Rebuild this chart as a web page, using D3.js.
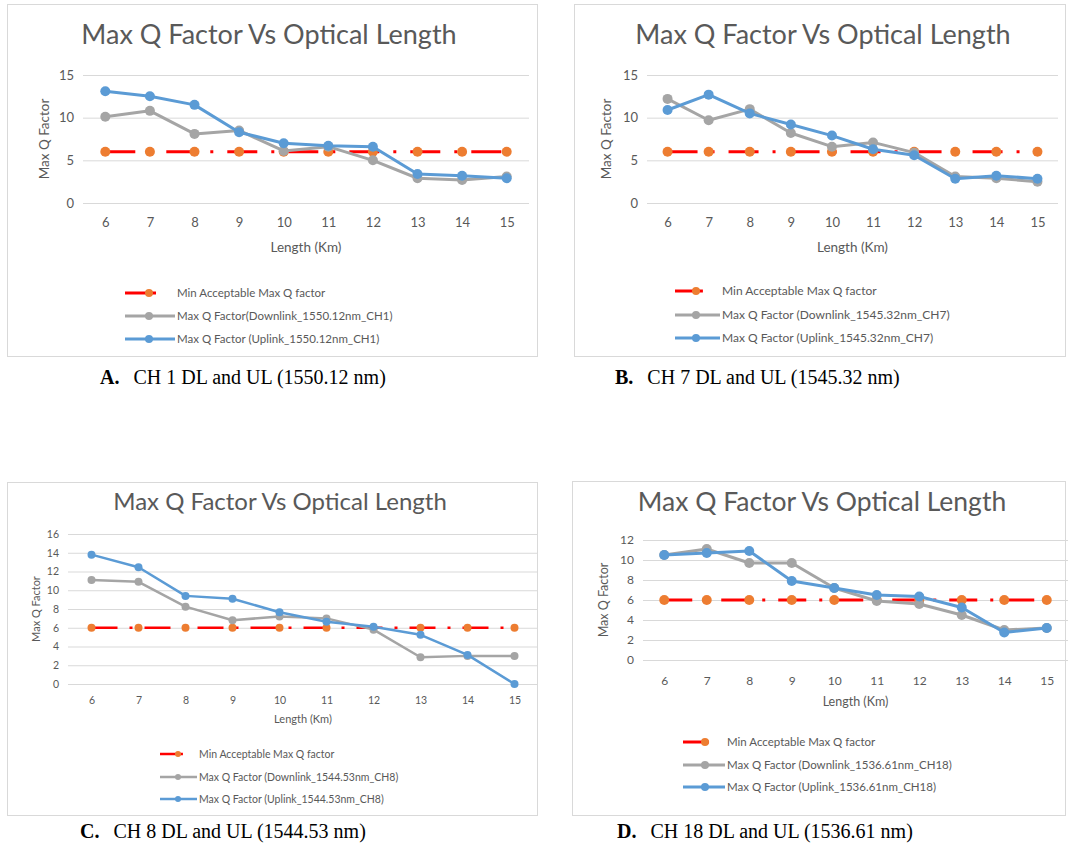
<!DOCTYPE html>
<html lang="en">
<head>
    <meta charset="UTF-8">
    <script src="https://d3js.org/d3.v7.min.js"></script>
    <style>
        body { margin: 0; background: white; }
        text { font-family: Lato, "Open Sans", sans-serif; }
        .caption { font-family: "Liberation Serif", "Times New Roman", serif; }
    </style>
</head>
<body>
    <svg id="chart" width="1072" height="847"></svg>

    <script>
        // x categories (km)
        const lengths = [6, 7, 8, 9, 10, 11, 12, 13, 14, 15];
        const minAcceptable = [6, 6, 6, 6, 6, 6, 6, 6, 6, 6];

        // CH1 1550.12 nm
        const ch1Down = [10.1, 10.8, 8.1, 8.5, 6.1, 6.6, 5.0, 2.9, 2.7, 3.1];
        const ch1Up   = [13.1, 12.5, 11.5, 8.3, 7.0, 6.7, 6.6, 3.4, 3.2, 2.9];
        // CH7 1545.32 nm
        const ch7Down = [12.2, 9.7, 11.0, 8.2, 6.6, 7.1, 5.9, 3.1, 2.9, 2.5];
        const ch7Up   = [10.9, 12.7, 10.5, 9.2, 7.9, 6.3, 5.6, 2.85, 3.2, 2.85];
        // CH8 1544.53 nm
        const ch8Down = [11.1, 10.9, 8.25, 6.8, 7.2, 7.0, 5.8, 2.85, 3.0, 3.0];
        const ch8Up   = [13.8, 12.45, 9.4, 9.1, 7.65, 6.65, 6.1, 5.25, 3.1, 0];
        // CH18 1536.61 nm
        const ch18Down = [10.5, 11.1, 9.7, 9.7, 7.2, 5.9, 5.6, 4.5, 3.0, 3.2];
        const ch18Up   = [10.5, 10.7, 10.9, 7.9, 7.2, 6.5, 6.35, 5.25, 2.75, 3.2];

        const yTicksAB = [0, 5, 10, 15];
        const yTicksC = [0, 2, 4, 6, 8, 10, 12, 14, 16];
        const yTicksD = [0, 2, 4, 6, 8, 10, 12];

        const legendMin = "Min Acceptable Max Q factor";
        const legendsDown = ["Max Q Factor(Downlink_1550.12nm_CH1)", "Max Q Factor (Downlink_1545.32nm_CH7)",
                             "Max Q Factor (Downlink_1544.53nm_CH8)", "Max Q Factor (Downlink_1536.61nm_CH18)"];
        const legendsUp = ["Max Q Factor (Uplink_1550.12nm_CH1)", "Max Q Factor (Uplink_1545.32nm_CH7)",
                           "Max Q Factor (Uplink_1544.53nm_CH8)", "Max Q Factor (Uplink_1536.61nm_CH18)"];
        const captionLetters = ["A.", "B.", "C.", "D."];
        const captionTexts = ["CH 1 DL and UL (1550.12 nm)", "CH 7 DL and UL (1545.32 nm)",
                              "CH 8 DL and UL (1544.53 nm)", "CH 18 DL and UL (1536.61 nm)"];

        const colors = { min: "#FF0000", minMarker: "#ED7D31", down: "#A5A5A5", up: "#5B9BD5" };

        const svg = d3.select("#chart");

        const panels = [
            { box: [7, 4, 530, 352], plot: [83, 75, 529, 203], yMax: 15, ticks: yTicksAB,
              down: ch1Down, up: ch1Up, titleX: 269, titleY: 44, titleSize: 27, tickSize: 13, xTickY: 223, xLabelY: 248,
              yLabelX: 45, legend: { x: 125, len: 50, mark: 149, ys: [293, 316, 339], size: 11.5 },
              lw: 3, r: 5, dash: "30,14,3,14", caption: [100, 384] },
            { box: [574, 4, 491, 352], plot: [647, 75, 1058, 203], yMax: 15, ticks: yTicksAB,
              down: ch7Down, up: ch7Up, titleX: 823, titleY: 44, titleSize: 27, tickSize: 13, xTickY: 223, xLabelY: 248,
              yLabelX: 607, legend: { x: 675, len: 45, mark: 696, ys: [291, 315, 338], size: 12 },
              lw: 3, r: 5, dash: "30,14,3,14", caption: [615, 384] },
            { box: [7, 482, 530, 333], plot: [68, 534, 538, 684], yMax: 16, ticks: yTicksC,
              down: ch8Down, up: ch8Up, titleX: 280, titleY: 510, titleSize: 24, tickSize: 10.5, xTickY: 701, xLabelY: 719,
              yLabelX: 36, legend: { x: 160, len: 37, mark: 178, ys: [754, 777, 799], size: 10.5 },
              lw: 2.5, r: 4, dash: "26,12,3,12", caption: [80, 838] },
            { box: [572, 481, 493, 334], plot: [643, 540, 1068, 660], yMax: 12, ticks: yTicksD,
              down: ch18Down, up: ch18Up, titleX: 822, titleY: 511, titleSize: 26.5, tickSize: 12, xTickY: 681, xLabelY: 702,
              yLabelX: 604, legend: { x: 683, len: 42, mark: 705, ys: [742, 765, 787], size: 11.5 },
              lw: 3, r: 5, dash: "28,13,3,13", caption: [617, 838] }
        ];

        panels.forEach((p, i) => {
            const g = svg.append("g");
            const [bx, by, bw, bh] = p.box;
            const [x0, y0, x1, y1] = p.plot;

            g.append("rect").attr("x", bx + 0.5).attr("y", by + 0.5).attr("width", bw).attr("height", bh)
                .attr("fill", "white").attr("stroke", "#D9D9D9");

            g.append("text")
                .attr("x", p.titleX).attr("y", p.titleY)
                .attr("text-anchor", "middle")
                .style("font-size", p.titleSize + "px")
                .attr("fill", "#595959")
                .text("Max Q Factor Vs Optical Length");

            const x = d3.scalePoint().domain(lengths).range([x0, x1]).padding(0.5);
            const y = d3.scaleLinear().domain([0, p.yMax]).range([y1, y0]);

            // gridlines + y labels
            const yAxis = g.append("g").attr("transform", `translate(${x0},0)`)
                .call(d3.axisLeft(y).tickValues(p.ticks).tickSize(-(x1 - x0)).tickPadding(9));
            yAxis.select(".domain").remove();
            yAxis.selectAll("line").attr("stroke", "#D9D9D9");
            yAxis.selectAll("text").attr("fill", "#595959").style("font-size", p.tickSize + "px")
                .style("font-family", "Lato, 'Open Sans', sans-serif");

            const xAxis = g.append("g").attr("transform", `translate(0,${p.xTickY})`)
                .call(d3.axisBottom(x).tickSize(0).tickPadding(0));
            xAxis.select(".domain").remove();
            xAxis.selectAll("text").attr("fill", "#595959").attr("dy", "0.32em").style("font-size", p.tickSize + "px")
                .style("font-family", "Lato, 'Open Sans', sans-serif");

            g.append("text")
                .attr("x", (x0 + x1) / 2).attr("y", p.xLabelY)
                .attr("text-anchor", "middle").attr("dy", "0.32em")
                .style("font-size", (p.tickSize + 0.5) + "px").attr("fill", "#595959")
                .text("Length (Km)");

            g.append("text")
                .attr("transform", `translate(${p.yLabelX},${(y0 + y1) / 2}) rotate(-90)`)
                .attr("text-anchor", "middle").attr("dy", "0.32em")
                .style("font-size", (p.tickSize + 0.5) + "px").attr("fill", "#595959")
                .text("Max Q Factor");

            const line = d3.line().x((d, j) => x(lengths[j])).y(d => y(d));

            const series = [
                { values: p.down, color: colors.down, marker: colors.down },
                { values: p.up, color: colors.up, marker: colors.up }
            ];

            // min acceptable line (dash-dot)
            g.append("path").datum(minAcceptable)
                .attr("d", line).attr("fill", "none")
                .attr("stroke", colors.min).attr("stroke-width", p.lw)
                .attr("stroke-dasharray", p.dash);
            g.selectAll(".minpt").data(minAcceptable).enter().append("circle")
                .attr("cx", (d, j) => x(lengths[j])).attr("cy", d => y(d))
                .attr("r", p.r).attr("fill", colors.minMarker);

            series.forEach(s => {
                g.append("path").datum(s.values)
                    .attr("d", line).attr("fill", "none")
                    .attr("stroke", s.color).attr("stroke-width", p.lw)
                    .attr("stroke-linejoin", "round");
                g.selectAll(null).data(s.values).enter().append("circle")
                    .attr("cx", (d, j) => x(lengths[j])).attr("cy", d => y(d))
                    .attr("r", p.r).attr("fill", s.marker);
            });

            // legend
            const L = p.legend;
            const entries = [
                { label: legendMin, color: colors.min, marker: colors.minMarker, len: L.len * 0.62 },
                { label: legendsDown[i], color: colors.down, marker: colors.down, len: L.len },
                { label: legendsUp[i], color: colors.up, marker: colors.up, len: L.len }
            ];
            entries.forEach((e, k) => {
                const ly = L.ys[k];
                g.append("line").attr("x1", L.x).attr("x2", L.x + e.len)
                    .attr("y1", ly).attr("y2", ly)
                    .attr("stroke", e.color).attr("stroke-width", p.lw);
                g.append("circle").attr("cx", L.mark).attr("cy", ly).attr("r", p.r - 1).attr("fill", e.marker);
                g.append("text").attr("x", L.x + L.len + 2).attr("y", ly).attr("dy", "0.35em")
                    .style("font-size", L.size + "px").attr("fill", "#595959")
                    .text(e.label);
            });

            // caption
            const cap = svg.append("text").attr("class", "caption")
                .attr("x", p.caption[0]).attr("y", p.caption[1])
                .style("font-size", "20px").attr("fill", "black");
            cap.append("tspan").style("font-weight", "bold").text(captionLetters[i]);
            cap.append("tspan").attr("dx", 14).text(captionTexts[i]);
        });
    </script>
</body>
</html>
